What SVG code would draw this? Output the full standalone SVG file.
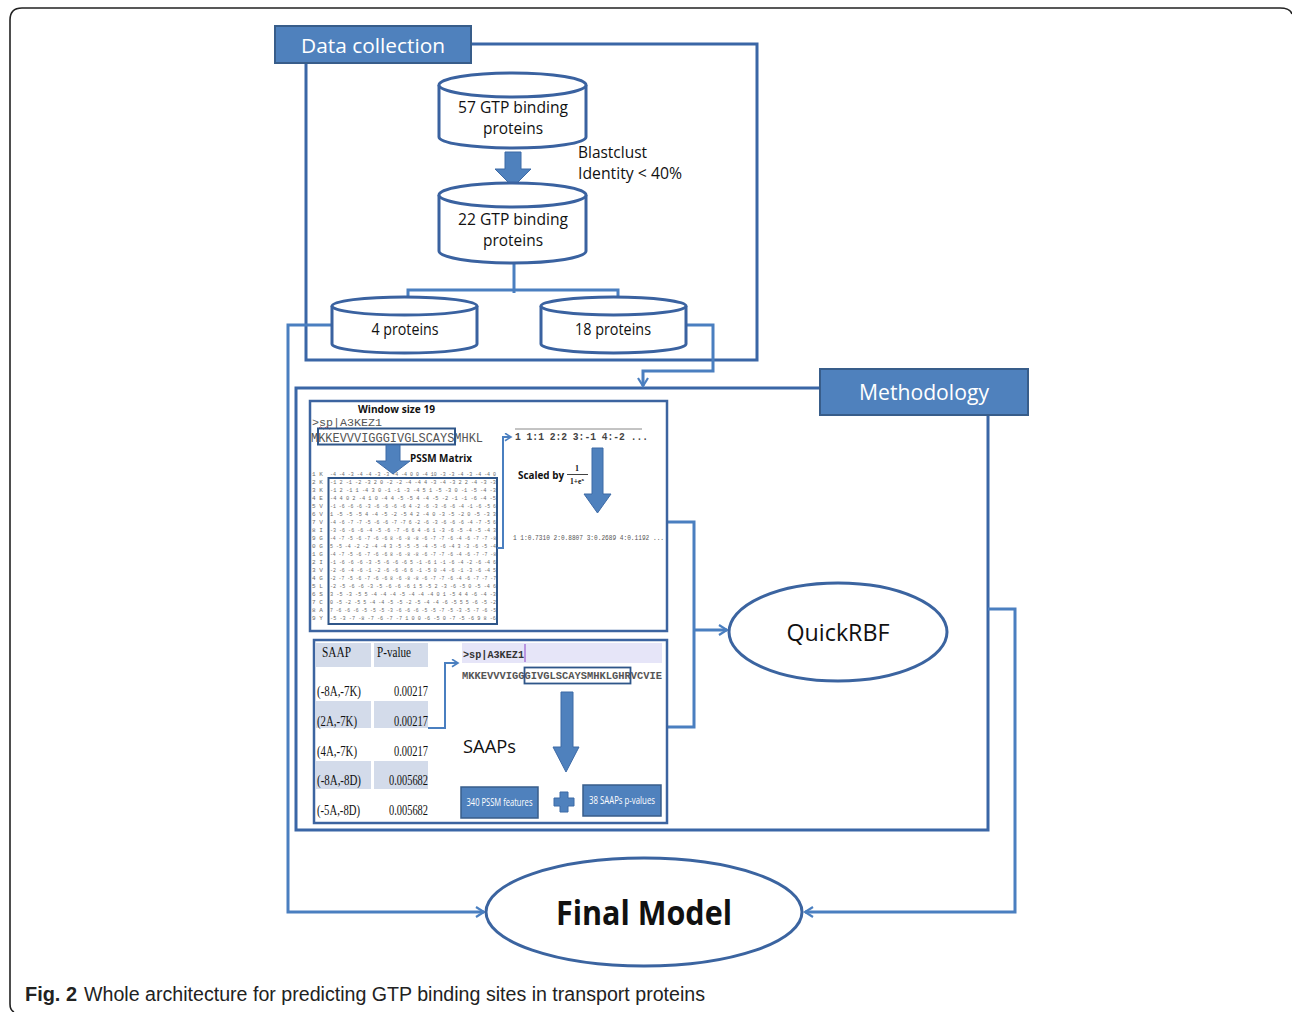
<svg xmlns="http://www.w3.org/2000/svg" width="1292" height="1012" viewBox="0 0 1292 1012">
  <defs>
    <style>
      .frame { fill: none; stroke: #3a66a6; stroke-width: 3; }
      .conn { fill: none; stroke: #4a7fc0; stroke-width: 3; }
      .thin { fill: none; stroke: #4a7fc0; stroke-width: 2; }
      .label-box { fill: #4f81bd; stroke: #385d8a; stroke-width: 2; }
      .label-text { font-family: "Open Sans", "Noto Sans", sans-serif; fill: #ffffff; }
      .cyl { fill: #ffffff; stroke: #3a62a0; stroke-width: 3; }
      .node-text { font-family: "Open Sans", "Noto Sans", sans-serif; fill: #111111; }
      .ellipse { fill: #ffffff; stroke: #3b64a0; stroke-width: 3; }
      .inner { fill: #ffffff; stroke: #3c64a0; stroke-width: 2.5; }
      .block { fill: #4f81bd; stroke: #3d6aa6; stroke-width: 1; }
      .mono { font-family: "Liberation Mono", "DejaVu Sans Mono", monospace; }
      .serif { font-family: "Liberation Serif", "Times New Roman", serif; fill: #111111; }
      .mat { font-family: "Liberation Mono", monospace; font-size: 6px; fill: #6a6a6a; }
      .shade { fill: #d3dbea; }
      .feat { fill: #4f81bd; stroke: #385d8a; stroke-width: 1.5; }
      .feat-text { font-family: "Open Sans", "Noto Sans", sans-serif; font-size: 10.5px; fill: #ffffff; }
    </style>
    <marker id="open" viewBox="0 0 12 12" refX="10" refY="6" markerWidth="12" markerHeight="12" markerUnits="userSpaceOnUse" orient="auto">
      <path d="M2,1 L10,6 L2,11" fill="none" stroke="#4a7fc0" stroke-width="2.2"/>
    </marker>
    <marker id="open-sm" viewBox="0 0 12 12" refX="10" refY="6" markerWidth="9" markerHeight="9" markerUnits="userSpaceOnUse" orient="auto">
      <path d="M2,1 L10,6 L2,11" fill="none" stroke="#4a7fc0" stroke-width="2.2"/>
    </marker>
  </defs>

  <rect width="1292" height="1012" fill="#ffffff"/>

  <!-- page frame -->
  <path d="M14,1012 Q10,1010 10,1004 V20 Q10,8 22,8 H1280 Q1290,8 1292,14" fill="none" stroke="#222222" stroke-width="1.6"/>

  <!-- connectors and group frames -->
  <g id="connectors">
    <!-- Data collection frame -->
    <path class="frame" d="M471,44 H757 V360 H306 V63"/>
    <!-- Methodology frame -->
    <path class="frame" d="M820,388 H296 V830 H988 V415"/>
    <!-- 22 proteins split -->
    <path class="conn" d="M514,263 V293"/>
    <path class="conn" d="M408,298 V290 H618 V298"/>
    <!-- 4 proteins to Final Model -->
    <path class="conn" d="M332,325 H288 V912 H484" marker-end="url(#open)"/>
    <!-- 18 proteins to Methodology -->
    <path class="conn" d="M686,325 H713 V371 H643 V386" marker-end="url(#open)"/>
    <!-- Methodology to Final Model -->
    <path class="conn" d="M988,609 H1015 V912 H805" marker-end="url(#open)"/>
    <!-- feature boxes to QuickRBF -->
    <path class="conn" d="M668,522 H694 V727 H667"/>
    <path class="conn" d="M694,630 H727" marker-end="url(#open)"/>
  </g>

  <!-- Data collection -->
  <g id="data-collection">
    <rect class="label-box" x="275" y="26" width="196" height="37"/>
    <text class="label-text" x="373" y="53" font-size="20" text-anchor="middle" textLength="144" lengthAdjust="spacingAndGlyphs">Data collection</text>
  </g>

  <g id="gtp57">
    <path class="cyl" d="M439,85 A73.5,12 0 0 1 586,85 V137 A73.5,11 0 0 1 439,137 Z"/>
    <path class="cyl" d="M439,85 A73.5,12 0 0 0 586,85"/>
    <text class="node-text" x="513" y="113" font-size="16.5" text-anchor="middle" textLength="110" lengthAdjust="spacingAndGlyphs">57 GTP binding</text>
    <text class="node-text" x="513" y="134" font-size="16.5" text-anchor="middle" textLength="60" lengthAdjust="spacingAndGlyphs">proteins</text>
  </g>

  <g id="blastclust">
    <path class="block" d="M505,152 H521 V169 H531 L513,187 L495,169 H505 Z"/>
    <text class="node-text" x="578" y="158" font-size="16" textLength="69" lengthAdjust="spacingAndGlyphs">Blastclust</text>
    <text class="node-text" x="578" y="179" font-size="16" textLength="104" lengthAdjust="spacingAndGlyphs">Identity &lt; 40%</text>
  </g>

  <g id="gtp22">
    <path class="cyl" d="M439,195 A73.5,12 0 0 1 586,195 V251 A73.5,12 0 0 1 439,251 Z"/>
    <path class="cyl" d="M439,195 A73.5,12 0 0 0 586,195"/>
    <text class="node-text" x="513" y="225" font-size="16.5" text-anchor="middle" textLength="110" lengthAdjust="spacingAndGlyphs">22 GTP binding</text>
    <text class="node-text" x="513" y="246" font-size="16.5" text-anchor="middle" textLength="60" lengthAdjust="spacingAndGlyphs">proteins</text>
  </g>

  <g id="proteins4">
    <path class="cyl" d="M332,306 A72.5,9 0 0 1 477,306 V344 A72.5,9 0 0 1 332,344 Z"/>
    <path class="cyl" d="M332,306 A72.5,9 0 0 0 477,306"/>
    <text class="node-text" x="405" y="335" font-size="15.5" text-anchor="middle" textLength="67" lengthAdjust="spacingAndGlyphs">4 proteins</text>
  </g>

  <g id="proteins18">
    <path class="cyl" d="M541,306 A72.5,9 0 0 1 686,306 V344 A72.5,9 0 0 1 541,344 Z"/>
    <path class="cyl" d="M541,306 A72.5,9 0 0 0 686,306"/>
    <text class="node-text" x="613" y="335" font-size="15.5" text-anchor="middle" textLength="76" lengthAdjust="spacingAndGlyphs">18 proteins</text>
  </g>

  <!-- Methodology -->
  <g id="methodology">
    <rect class="label-box" x="820" y="369" width="208" height="46"/>
    <text class="label-text" x="924" y="400" font-size="22" text-anchor="middle" textLength="130" lengthAdjust="spacingAndGlyphs">Methodology</text>
  </g>

  <!-- PSSM feature encoding -->
  <g id="pssm">
    <rect class="inner" x="310" y="401" width="357" height="230"/>
    <text x="358" y="413" font-family="Open Sans, Noto Sans, sans-serif" font-size="10.5" font-weight="bold" fill="#111" textLength="77" lengthAdjust="spacingAndGlyphs">Window size 19</text>
    <text class="mono" x="312" y="426" font-size="11.5" fill="#555" textLength="70" lengthAdjust="spacingAndGlyphs">&gt;sp|A3KEZ1</text>
    <path d="M319,428 q1.5,-2 3,0 t3,0 t3,0 t3,0" fill="none" stroke="#d02020" stroke-width="0.8"/>
    <text class="mono" x="311" y="442" font-size="12" fill="#555" textLength="172" lengthAdjust="spacingAndGlyphs">MKKEVVVIGGGIVGLSCAYSMHKL</text>
    <rect x="318" y="428.5" width="137" height="16" fill="none" stroke="#2f5689" stroke-width="2"/>
    <path class="block" d="M386,445 H400 V461 H410 L393,474 L376,461 H386 Z"/>
    <text x="410" y="462" font-family="Open Sans, Noto Sans, sans-serif" font-size="10.5" font-weight="bold" fill="#111" textLength="62" lengthAdjust="spacingAndGlyphs">PSSM Matrix</text>

    <!-- matrix rows -->
    <g class="mat">
      <text x="312" y="476">1 K</text><text x="330" y="476" textLength="166" lengthAdjust="spacingAndGlyphs">-4 -4 -3 -4 -4 -3 -3 -4 -4 0 0 -4 10 -3 -3 -4 -3 -4 -4 0</text>
      <text x="312" y="484">2 K</text><text x="330" y="484" textLength="166" lengthAdjust="spacingAndGlyphs">-1 2 -1 -2 -3 2 0 -2 -2 -4 -4 4 -3 -4 -3 2 2 -4 -3 -3</text>
      <text x="312" y="492">3 K</text><text x="330" y="492" textLength="166" lengthAdjust="spacingAndGlyphs">-1 2 -1 1 -4 3 0 -1 -1 -3 -4 5 1 -5 -3 0 -1 -5 -4 -3</text>
      <text x="312" y="500">4 E</text><text x="330" y="500" textLength="166" lengthAdjust="spacingAndGlyphs">-4 4 0 2 -4 1 0 -4 4 -5 -5 4 -4 -5 -2 -1 -1 -6 -4 -5</text>
      <text x="312" y="508">5 V</text><text x="330" y="508" textLength="166" lengthAdjust="spacingAndGlyphs">-1 -6 -6 -6 -3 -6 -6 -6 -6 4 -2 -6 -3 -6 -6 -4 -1 -6 -5 6</text>
      <text x="312" y="516">6 V</text><text x="330" y="516" textLength="166" lengthAdjust="spacingAndGlyphs">1 -5 -5 -5 4 -4 -5 -2 -5 4 2 -4 0 -3 -5 -2 0 -5 -3 3</text>
      <text x="312" y="524">7 V</text><text x="330" y="524" textLength="166" lengthAdjust="spacingAndGlyphs">-4 -6 -7 -7 -5 -6 -6 -7 -7 6 -2 -6 -3 -6 -6 -6 -4 -7 -5 6</text>
      <text x="312" y="532">8 I</text><text x="330" y="532" textLength="166" lengthAdjust="spacingAndGlyphs">-3 -6 -6 -6 -4 -5 -6 -7 -6 6 4 -6 1 -3 -6 -5 -4 -5 -4 3</text>
      <text x="312" y="540">9 G</text><text x="330" y="540" textLength="166" lengthAdjust="spacingAndGlyphs">-4 -7 -5 -6 -7 -6 -6 8 -6 -8 -8 -6 -7 -7 -6 -4 -6 -7 -7 -8</text>
      <text x="312" y="548">0 G</text><text x="330" y="548" textLength="166" lengthAdjust="spacingAndGlyphs">5 -5 -4 -2 -2 -4 -4 3 -5 -5 -5 -4 -5 -6 -4 3 -3 -6 -5 -4</text>
      <text x="312" y="556">1 G</text><text x="330" y="556" textLength="166" lengthAdjust="spacingAndGlyphs">-4 -7 -5 -6 -7 -6 -6 8 -6 -8 -8 -6 -7 -7 -6 -4 -6 -7 -7 -8</text>
      <text x="312" y="564">2 I</text><text x="330" y="564" textLength="166" lengthAdjust="spacingAndGlyphs">-1 -6 -6 -6 -3 -5 -6 -6 -6 5 -1 -6 1 -1 -6 -4 -2 -6 -4 6</text>
      <text x="312" y="572">3 V</text><text x="330" y="572" textLength="166" lengthAdjust="spacingAndGlyphs">-2 -6 -4 -6 -1 -2 -6 -6 -6 6 -1 -5 0 -4 -6 -1 -3 -6 -4 5</text>
      <text x="312" y="580">4 G</text><text x="330" y="580" textLength="166" lengthAdjust="spacingAndGlyphs">-2 -7 -5 -6 -7 -6 -6 8 -6 -8 -8 -6 -7 -7 -6 -4 -6 -7 -7 -7</text>
      <text x="312" y="588">5 L</text><text x="330" y="588" textLength="166" lengthAdjust="spacingAndGlyphs">-2 -5 -6 -6 -3 -5 -6 -6 -6 1 5 -5 2 -3 -6 -5 0 -5 -4 6</text>
      <text x="312" y="596">6 S</text><text x="330" y="596" textLength="166" lengthAdjust="spacingAndGlyphs">3 -5 -3 -5 5 -4 -4 -4 -5 -4 -4 -4 0 1 -5 4 4 -6 -4 -3</text>
      <text x="312" y="604">7 C</text><text x="330" y="604" textLength="166" lengthAdjust="spacingAndGlyphs">0 -5 -2 -5 5 -4 -4 -5 -5 -2 -5 -4 -4 -6 -5 5 5 -6 -5 -2</text>
      <text x="312" y="612">8 A</text><text x="330" y="612" textLength="166" lengthAdjust="spacingAndGlyphs">7 -6 -6 -6 -5 -5 -5 -3 -6 -6 -6 -5 -5 -7 -5 -3 -5 -7 -6 -5</text>
      <text x="312" y="620">9 Y</text><text x="330" y="620" textLength="166" lengthAdjust="spacingAndGlyphs">-5 -3 -7 -8 -7 -6 -7 -7 1 0 0 -6 -5 0 -7 -5 -6 9 8 -6</text>
    </g>
    <rect x="328.5" y="478" width="168.5" height="146" fill="none" stroke="#2f5689" stroke-width="2"/>

    <path class="thin" d="M497,548 H503 V437 H511" marker-end="url(#open-sm)"/>
    <line x1="515" y1="429" x2="642" y2="429" stroke="#888" stroke-width="1"/>
    <text class="mono" x="515" y="440" font-size="10" font-weight="bold" fill="#444" textLength="133" lengthAdjust="spacingAndGlyphs">1 1:1 2:2 3:-1 4:-2 ...</text>
    <text x="518" y="479" font-family="Open Sans, Noto Sans, sans-serif" font-size="10" font-weight="bold" fill="#111" textLength="46" lengthAdjust="spacingAndGlyphs">Scaled by</text>
    <text x="577" y="471" font-family="Liberation Serif, serif" font-size="8" font-weight="bold" fill="#111" text-anchor="middle">1</text>
    <line x1="567" y1="474.5" x2="588" y2="474.5" stroke="#111" stroke-width="0.8"/>
    <text x="577" y="484" font-family="Liberation Serif, serif" font-size="7.5" font-weight="bold" fill="#111" text-anchor="middle">1+e<tspan font-size="5" dy="-3">x</tspan></text>
    <path class="block" d="M592,448 H603 V494 H611 L597.5,513 L584,494 H592 Z"/>
    <text class="mono" x="513" y="540" font-size="7" fill="#555" textLength="151" lengthAdjust="spacingAndGlyphs">1 1:0.7310 2:0.8807 3:0.2689 4:0.1192 ...</text>
  </g>

  <!-- SAAP feature encoding -->
  <g id="saap">
    <rect class="inner" x="314" y="640" width="353" height="183"/>
    <!-- table shading -->
    <rect class="shade" x="316" y="643" width="55" height="24"/>
    <rect class="shade" x="374" y="643" width="54" height="24"/>
    <rect class="shade" x="316" y="701" width="55" height="27"/>
    <rect class="shade" x="374" y="701" width="54" height="27"/>
    <rect class="shade" x="316" y="761" width="55" height="28"/>
    <rect class="shade" x="374" y="761" width="54" height="28"/>
    <g class="serif" font-size="15">
      <text x="322" y="657" textLength="29" lengthAdjust="spacingAndGlyphs">SAAP</text>
      <text x="377" y="657" textLength="34" lengthAdjust="spacingAndGlyphs">P-value</text>
      <text x="317" y="696" textLength="44" lengthAdjust="spacingAndGlyphs">(-8A,-7K)</text>
      <text x="428" y="696" text-anchor="end" textLength="34" lengthAdjust="spacingAndGlyphs">0.00217</text>
      <text x="317" y="726" textLength="40" lengthAdjust="spacingAndGlyphs">(2A,-7K)</text>
      <text x="428" y="726" text-anchor="end" textLength="34" lengthAdjust="spacingAndGlyphs">0.00217</text>
      <text x="317" y="756" textLength="40" lengthAdjust="spacingAndGlyphs">(4A,-7K)</text>
      <text x="428" y="756" text-anchor="end" textLength="34" lengthAdjust="spacingAndGlyphs">0.00217</text>
      <text x="317" y="785" textLength="44" lengthAdjust="spacingAndGlyphs">(-8A,-8D)</text>
      <text x="428" y="785" text-anchor="end" textLength="39" lengthAdjust="spacingAndGlyphs">0.005682</text>
      <text x="317" y="815" textLength="43" lengthAdjust="spacingAndGlyphs">(-5A,-8D)</text>
      <text x="428" y="815" text-anchor="end" textLength="39" lengthAdjust="spacingAndGlyphs">0.005682</text>
    </g>

    <path class="thin" d="M428,728 H445 V663 H458" marker-end="url(#open-sm)"/>
    <rect x="462" y="643" width="200" height="20" fill="#e6e5f8"/>
    <text class="mono" x="463" y="658" font-size="10.5" font-weight="bold" fill="#333" textLength="61" lengthAdjust="spacingAndGlyphs">&gt;sp|A3KEZ1</text>
    <line x1="525" y1="644" x2="525" y2="662" stroke="#9b5fd0" stroke-width="1.2"/>
    <text class="mono" x="462" y="679" font-size="10.4" font-weight="bold" fill="#555" textLength="200" lengthAdjust="spacingAndGlyphs">MKKEVVVIGGGIVGLSCAYSMHKLGHRVCVIE</text>
    <rect x="524.5" y="667.5" width="106" height="16" fill="none" stroke="#2f5689" stroke-width="1.8"/>
    <path class="block" d="M561,692 H573 V747 H579 L566,772 L553,747 H561 Z"/>
    <text class="node-text" x="463" y="753" font-size="18" textLength="53" lengthAdjust="spacingAndGlyphs">SAAPs</text>

    <rect class="feat" x="461" y="787" width="77" height="31"/>
    <text class="feat-text" x="499.5" y="806" text-anchor="middle" textLength="66" lengthAdjust="spacingAndGlyphs">340 PSSM features</text>
    <path d="M560,792 H568 V798 H574 V806 H568 V812 H560 V806 H554 V798 H560 Z" fill="#4f81bd" stroke="#3d6aa6" stroke-width="1"/>
    <rect class="feat" x="583" y="785" width="78" height="31"/>
    <text class="feat-text" x="622" y="804" text-anchor="middle" textLength="66" lengthAdjust="spacingAndGlyphs">38 SAAPs p-values</text>
  </g>

  <!-- classifier -->
  <g id="quickrbf">
    <ellipse class="ellipse" cx="838" cy="632" rx="109" ry="49"/>
    <text class="node-text" x="838" y="641" font-size="24" text-anchor="middle" textLength="103" lengthAdjust="spacingAndGlyphs">QuickRBF</text>
  </g>

  <g id="final-model">
    <ellipse class="ellipse" cx="644" cy="912" rx="158" ry="54"/>
    <text class="node-text" x="644" y="925" font-size="34" font-weight="bold" fill="#000" text-anchor="middle" textLength="176" lengthAdjust="spacingAndGlyphs">Final Model</text>
  </g>

  <!-- caption -->
  <g id="caption" font-family="Liberation Sans, Arial, sans-serif" font-size="20" fill="#222">
    <text x="25" y="1001" font-weight="bold" textLength="52" lengthAdjust="spacingAndGlyphs">Fig. 2</text>
    <text x="84" y="1001" textLength="621" lengthAdjust="spacingAndGlyphs">Whole architecture for predicting GTP binding sites in transport proteins</text>
  </g>
</svg>
